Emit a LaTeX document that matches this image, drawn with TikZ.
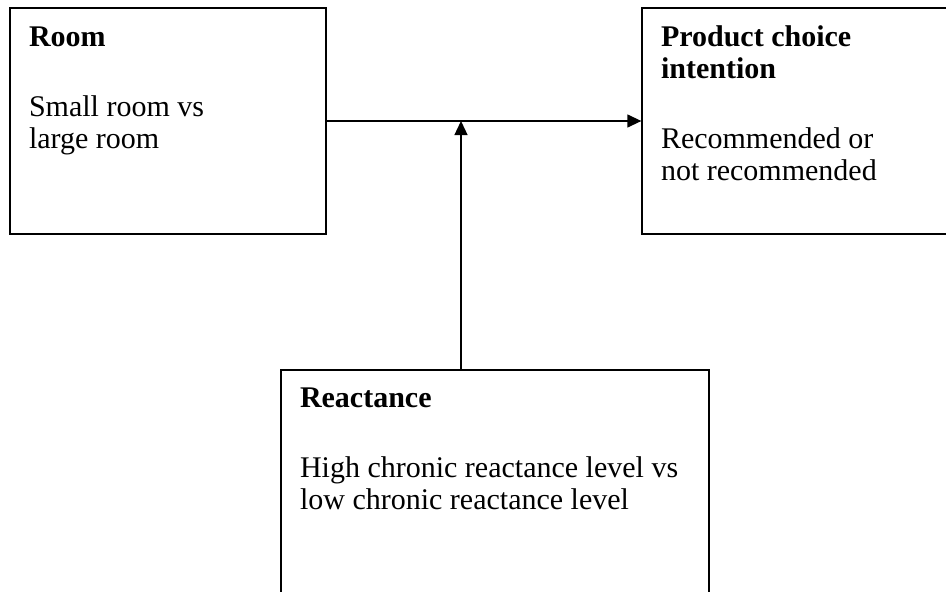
\documentclass[tikz,border=0pt]{standalone}
\usepackage{fontspec}
\setmainfont{Liberation Serif}
\usetikzlibrary{arrows.meta,positioning}

\tikzset{
  box/.style={draw,line width=1.3pt,inner sep=0pt,minimum height=226pt},
  boxtext/.style={font=\fontsize{30}{32}\selectfont,align=left,anchor=base west,inner sep=0pt},
}

\begin{document}
\begin{tikzpicture}[x=1pt,y=-1pt,>={Triangle[length=14pt,width=13pt]},line width=1.3pt]
  \useasboundingbox (0,0) rectangle (946,592);
  \clip (0,0) rectangle (946,592);
  % Kaesten
  \node[box,minimum width=316pt] (room) at (168,121) {};
  \node[box,minimum width=330pt] (choice) at (807,121) {};
  \node[box,minimum width=428pt,minimum height=250pt] (react) at (495,495) {};
  % Texte (Anker: Grundlinie der letzten Zeile)
  \node[boxtext] (roomtext) at ([shift={(19pt,-141pt)}]room.north west)
    {\textbf{Room}\\[38pt]Small room vs\\large room};
  \node[boxtext] (choicetext) at ([shift={(19pt,-173pt)}]choice.north west)
    {\textbf{Product choice}\\\textbf{intention}\\[38pt]Recommended or\\not recommended};
  \node[boxtext] (reacttext) at ([shift={(19pt,-140pt)}]react.north west)
    {\textbf{Reactance}\\[38pt]High chronic reactance level vs\\low chronic reactance level};
  % Pfeile
  \coordinate (join) at (461,121);
  \draw[->] (room.east) -- (choice.west);
  \draw[->] (react.north -| join) -- (join);
\end{tikzpicture}
\end{document}
